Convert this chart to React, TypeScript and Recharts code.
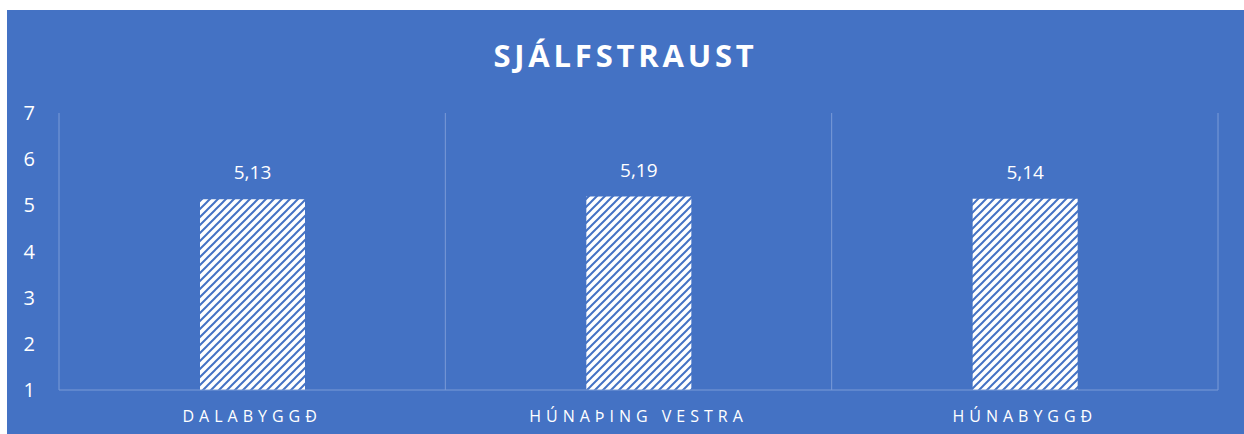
import { BarChart, Bar, XAxis, YAxis, CartesianGrid, LabelList } from 'recharts';

const categories = ['DALABYGGÐ', 'HÚNAÞING VESTRA', 'HÚNABYGGÐ'];
const values = [5.13, 5.19, 5.14];
const yTicks = [1, 2, 3, 4, 5, 6, 7];

const data = categories.map((name, i) => ({ name, value: values[i] }));

const BLUE = '#4472C4';
const GRID = '#7B9BD7';
const FONT = '"Open Sans", "Noto Sans", sans-serif';

const W = 1237;
const H = 424;

export default function App() {
  return (
    <div style={{ position: 'absolute', left: 7, top: 10, width: W, height: H, background: BLUE, fontFamily: FONT }}>
      <div
        style={{
          position: 'absolute', top: 30, left: 0, width: W, textAlign: 'center',
          color: '#fff', fontSize: 31, fontWeight: 700, letterSpacing: 3.8, lineHeight: '31px',
        }}
      >
        SJÁLFSTRAUST
      </div>
      <BarChart
        width={W}
        height={H}
        data={data}
        margin={{ top: 103, right: 26, bottom: 14, left: 0 }}
        style={{ position: 'absolute', left: 0, top: 0 }}
      >
        <defs>
          <pattern id="hatch" width="8" height="8" patternUnits="userSpaceOnUse">
            <rect width="8" height="8" fill="#fff" />
            <path d="M-2,2 L2,-2 M0,8 L8,0 M6,10 L10,6" stroke={BLUE} strokeWidth={2} />
          </pattern>
        </defs>
        <CartesianGrid
          horizontal={false}
          stroke={GRID}
          verticalCoordinatesGenerator={({ offset }: any) =>
            [0, 1, 2, 3].map((i) => offset.left + (i * offset.width) / categories.length)
          }
        />
        <XAxis
          dataKey="name"
          axisLine={{ stroke: GRID }}
          tickLine={false}
          tickMargin={15}
          interval={0}
          tick={{ fill: '#fff', fontSize: 16, fontFamily: FONT, letterSpacing: 5 } as any}
        />
        <YAxis
          domain={[1, 7]}
          ticks={yTicks}
          width={52}
          axisLine={false}
          tickLine={false}
          tickMargin={18}
          tick={{ fill: '#fff', fontSize: 20, fontFamily: FONT }}
        />
        <Bar dataKey="value" fill="url(#hatch)" barSize={105} isAnimationActive={false}>
          <LabelList
            dataKey="value"
            position="top"
            offset={20}
            fill="#fff"
            fontSize={19}
            fontFamily={FONT}
            formatter={(v: any) => Number(v).toFixed(2).replace('.', ',')}
          />
        </Bar>
      </BarChart>
    </div>
  );
}
